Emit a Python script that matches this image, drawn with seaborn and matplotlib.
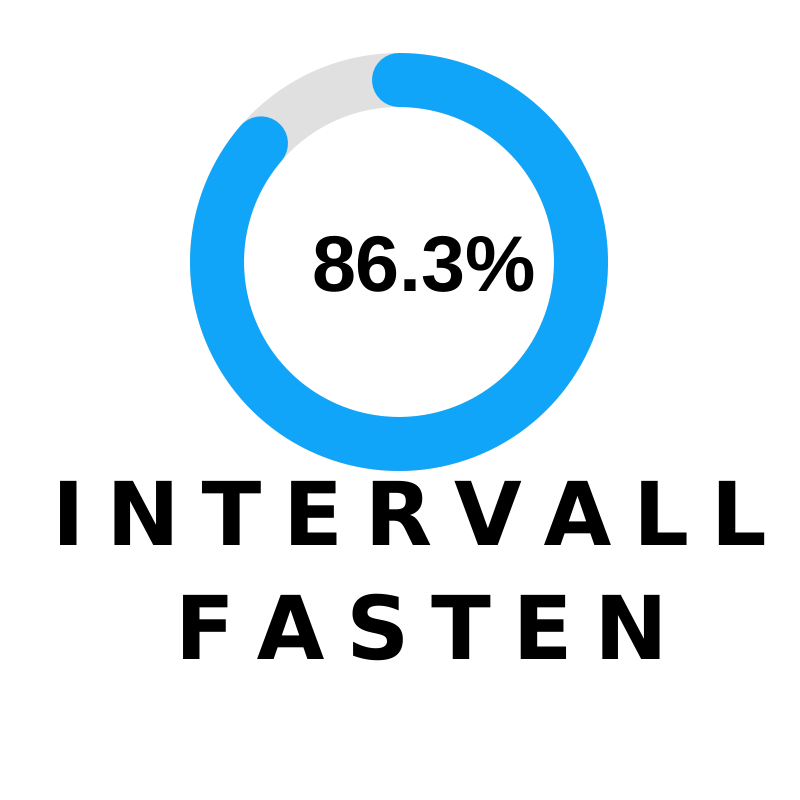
import numpy as np
import matplotlib
matplotlib.use("Agg")
import matplotlib.pyplot as plt
import seaborn as sns

# progress value shown in the ring (percent)
progress = 86.3
label = f"{progress}%"
title_words = ["INTERVALL", "FASTEN"]

blue = "#10A5F9"
track_gray = "#E0E0E0"

# four-per-em space between the letters gives the wide tracking
TRACK = "\u2005"


def main():
    sns.set_theme(style="white")
    # autohinting pushes the big T off the baseline
    plt.rcParams["text.hinting"] = "no_hinting"
    fig = plt.figure(figsize=(8, 8), dpi=100)
    ax = fig.add_axes([0, 0, 1, 1])
    ax.set_xlim(0, 800)
    ax.set_ylim(800, 0)
    ax.set_axis_off()

    cx, cy, r = 399, 262, 182
    ring_w = 54 * 72 / 100  # px -> points

    full = np.linspace(0, 2 * np.pi, 400)
    ax.plot(cx + r * np.sin(full), cy - r * np.cos(full), color=track_gray,
            linewidth=ring_w, solid_capstyle="butt")

    theta = np.linspace(0, 2 * np.pi * progress / 100, 400)
    sns.lineplot(x=cx + r * np.sin(theta), y=cy - r * np.cos(theta), sort=False,
                 color=blue, linewidth=ring_w, solid_capstyle="round", ax=ax)

    ax.text(424, 291, label, ha="center", va="baseline", fontsize=57,
            fontweight="bold", family="Liberation Sans", color="black")

    for word, x, y in zip(title_words, [409, 421], [545, 659]):
        ax.text(x, y, TRACK.join(word), ha="center", va="baseline", fontsize=63,
                fontweight="bold", family="DejaVu Sans", color="black")

    fig.savefig("out.png", dpi=100, facecolor="white")


if __name__ == "__main__":
    main()
